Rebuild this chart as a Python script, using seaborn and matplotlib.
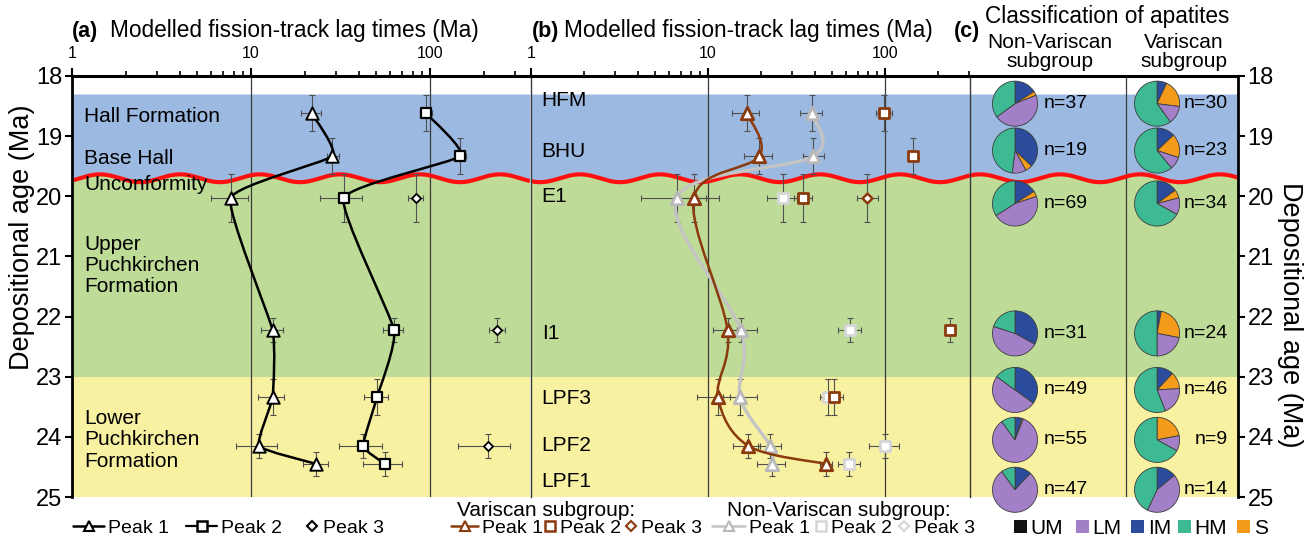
import numpy as np
import pandas as pd
import seaborn as sns
import matplotlib
matplotlib.use("Agg")
import matplotlib.pyplot as plt
from matplotlib.path import Path
from matplotlib.patches import PathPatch, Patch
from matplotlib.lines import Line2D
from matplotlib.ticker import FixedLocator, LogLocator, NullFormatter

# ---- data ----
samples = ["HFM", "BHU", "E1", "I1", "LPF3", "LPF2", "LPF1"]
dep_age = [18.62, 19.33, 20.03, 22.23, 23.34, 24.15, 24.45]
dep_age_err = [0.3, 0.3, 0.4, 0.2, 0.3, 0.2, 0.2]

# (a) all apatites
a_peak1 = [21.8, 28.5, 7.7, 13.2, 13.2, 11.1, 23.2]
a_peak1_lo = [19.0, 26.5, 6.0, 11.4, 11.0, 8.2, 19.4]
a_peak1_hi = [24.6, 31.1, 9.6, 15.0, 15.3, 14.0, 27.0]
a_peak2 = [95, 148, 33, 63, 50.6, 42.4, 56]
a_peak2_lo = [88, 138, 24.2, 54.8, 42.8, 31.1, 42.4]
a_peak2_hi = [102, 158, 41.5, 71.0, 58.5, 54.2, 69.5]
a_peak3_samples = ["E1", "I1", "LPF2"]
a_peak3 = [83, 237, 212]
a_peak3_lo = [75.7, 214, 144]
a_peak3_hi = [91, 262, 280]

# (b) Variscan / Non-Variscan subgroups
v_peak1 = [16.6, 19.5, 8.3, 12.9, 11.4, 16.9, 46.4]
v_peak1_lo = [13.7, 15.9, 6.65, 10.7, 8.7, 13.9, 42.9]
v_peak1_hi = [19.5, 23.1, 11.5, 14.5, 13.3, 19.7, 50.0]
nv_peak1 = [38.5, 39.4, 6.65, 15.3, 15.2, 22.4, 22.9]
nv_peak1_lo = [33.1, 34.3, 4.17, 12.5, 12.2, 19.2, 18.8]
nv_peak1_hi = [43.9, 45.2, 9.75, 18.8, 19.0, 25.7, 27.2]
v_peak2_samples = ["HFM", "BHU", "E1", "I1", "LPF3"]
v_peak2 = [99, 143, 34.4, 233, 51.7]
v_peak2_lo = [89, 135, 30.6, 218, 47.9]
v_peak2_hi = [109, 152, 38.5, 248, 58.1]
nv_peak2_samples = ["E1", "I1", "LPF3", "LPF2", "LPF1"]
nv_peak2 = [26.4, 63.4, 47.9, 100, 62.9]
nv_peak2_lo = [21.5, 54.5, 42.9, 81.5, 54.5]
nv_peak2_hi = [31.7, 72.9, 51.0, 120, 72.2]
v_peak3_samples = ["E1"]
v_peak3 = [79]
v_peak3_lo = [69.2]
v_peak3_hi = [91.6]

# (c) apatite classes (fractions), clockwise from 12 o'clock: IM, S, LM, HM
classes = ["UM", "LM", "IM", "HM", "S"]
class_colors = {"UM": "#111111", "LM": "#a37fc8", "IM": "#2b4c9c", "HM": "#3dba94", "S": "#f49b1c"}
nv_n = [37, 19, 69, 31, 49, 55, 47]
nv_IM = [0.16, 0.37, 0.16, 0.33, 0.35, 0.05, 0.12]
nv_S = [0.03, 0.05, 0.04, 0.0, 0.0, 0.01, 0.0]
nv_LM = [0.46, 0.10, 0.46, 0.47, 0.50, 0.84, 0.78]
nv_HM = [0.35, 0.48, 0.34, 0.20, 0.15, 0.10, 0.10]
v_n = [30, 23, 34, 24, 46, 9, 14]
v_IM = [0.07, 0.13, 0.15, 0.03, 0.12, 0.0, 0.14]
v_S = [0.20, 0.17, 0.06, 0.25, 0.12, 0.22, 0.0]
v_LM = [0.13, 0.09, 0.12, 0.22, 0.20, 0.11, 0.43]
v_HM = [0.60, 0.61, 0.67, 0.50, 0.56, 0.67, 0.43]
pie_row_age = [18.46, 19.24, 20.12, 22.28, 23.22, 24.05, 24.88]

formations = [("Hall Formation", 18.67), ("Base Hall", 19.37), ("Unconformity", 19.81),
              ("Upper\nPuchkirchen\nFormation", 21.15), ("Lower\nPuchkirchen\nFormation", 24.05)]
sample_label_age = [18.4, 19.26, 20.0, 22.28, 23.37, 24.14, 24.75]

# ---- style ----
sns.set_theme(style="white")
plt.rcParams["font.family"] = ["Liberation Sans", "DejaVu Sans"]
plt.rcParams["text.color"] = "black"
plt.rcParams["xtick.color"] = "black"
plt.rcParams["ytick.color"] = "black"

BLUE, GREEN, YELLOW = "#9cb9e1", "#bedc98", "#f8f1a2"
BROWN, GREY, LGREY = "#8b3a0e", "#b8b8b8", "#d6d6d6"
ECOL = "#505050"

W, H = 1306, 541
fig = plt.figure(figsize=(W / 100, H / 100), dpi=100)
fig.patch.set_facecolor("white")


def px_axes(l, t, r, b):
    return fig.add_axes([l / W, 1 - b / H, (r - l) / W, (b - t) / H])


ax_a = px_axes(72, 76, 530, 497)
ax_b = px_axes(531, 76, 970, 497)
ax_c = px_axes(970, 76, 1238, 497)
ax_bounds = {ax_a: (72, 530), ax_b: (531, 970), ax_c: (970, 1238)}

for ax, xmax in [(ax_a, 362), (ax_b, 302)]:
    ax.set_xscale("log")
    ax.set_xlim(1, xmax)
ax_c.set_xlim(0, 1)
for ax in (ax_a, ax_b, ax_c):
    ax.set_ylim(25, 18)
    ax.set_facecolor("white")


def frac_to_x(ax, f):
    lo, hi = ax.get_xlim()
    if ax.get_xscale() == "log":
        return 10 ** (np.log10(lo) + f * (np.log10(hi) - np.log10(lo)))
    return lo + f * (hi - lo)


# background units and the unconformity
for ax, (l, r) in ax_bounds.items():
    px = np.linspace(l, r, 500)
    f = (px - l) / (r - l)
    xs = frac_to_x(ax, f)
    wave = 19.7 + 0.065 * np.sin(2 * np.pi * (px - 40) / 80)
    ax.fill_between(xs, 18.3, wave, color=BLUE, lw=0, zorder=0)
    ax.fill_between(xs, wave, 23, color=GREEN, lw=0, zorder=0)
    ax.fill_between(xs, 23, 25, color=YELLOW, lw=0, zorder=0)
    ax.plot(xs, wave, color="#ff1010", lw=3, zorder=2, solid_capstyle="butt")

for ax in (ax_a, ax_b):
    for v in (10, 100):
        ax.axvline(v, color="#3a3a3a", lw=0.9, zorder=1)
ax_c.axvline((1126 - 970) / 268, color="#3a3a3a", lw=0.9, zorder=1)


def smooth_line(ax, x, y, tension=1.0, **kw):
    P = np.column_stack([np.log10(x), y])
    n = len(P)
    verts, codes = [P[0]], [Path.MOVETO]
    for i in range(n - 1):
        p0, p1, p2, p3 = P[max(i - 1, 0)], P[i], P[i + 1], P[min(i + 2, n - 1)]
        c1 = p1 + tension * (p2 - p0) / 6
        c2 = p2 - tension * (p3 - p1) / 6
        verts += [c1, c2, p2]
        codes += [Path.CURVE4] * 3
    V = np.array(verts)
    V[:, 0] = 10 ** V[:, 0]
    ax.add_patch(PathPatch(Path(V, codes), fill=False, **kw))


def draw_series(ax, names, lag, lo, hi, marker, size, face, edge, mlw,
                line=None, line_lw=1.6, tension=1.0, z=5):
    idx = [samples.index(s) for s in names]
    age = np.array(dep_age)[idx]
    aerr = np.array(dep_age_err)[idx]
    lag, lo, hi = np.array(lag, float), np.array(lo, float), np.array(hi, float)
    ax.errorbar(lag, age, xerr=[lag - lo, hi - lag], yerr=aerr, fmt="none",
                ecolor=ECOL, elinewidth=0.8, capsize=2.5, capthick=0.8, zorder=3)
    if line is not None:
        smooth_line(ax, lag, age, tension=tension, edgecolor=line, lw=line_lw,
                    zorder=z - 1, capstyle="round", joinstyle="round")
    df = pd.DataFrame({"lag": lag, "age": age})
    sns.scatterplot(data=df, x="lag", y="age", ax=ax, marker=marker, s=size,
                    color=face, edgecolor=edge, linewidth=mlw, zorder=z, legend=False)


# panel (a)
draw_series(ax_a, samples, a_peak1, a_peak1_lo, a_peak1_hi, "^", 80, "white", "black", 1.4,
            line="black", line_lw=1.8, tension=0.45)
draw_series(ax_a, samples, a_peak2, a_peak2_lo, a_peak2_hi, "s", 55, "white", "black", 1.6,
            line="black", line_lw=1.8, tension=0.45)
draw_series(ax_a, a_peak3_samples, a_peak3, a_peak3_lo, a_peak3_hi, "D", 22, "white", "black", 1.3)

# panel (b)
draw_series(ax_b, samples, nv_peak1, nv_peak1_lo, nv_peak1_hi, "^", 80, "white", GREY, 2.0,
            line="#c4c4c4", line_lw=2.4, z=5)
draw_series(ax_b, samples, v_peak1, v_peak1_lo, v_peak1_hi, "^", 80, "white", BROWN, 2.0,
            line=BROWN, line_lw=1.8, z=7)
draw_series(ax_b, nv_peak2_samples, nv_peak2, nv_peak2_lo, nv_peak2_hi, "s", 45, "white", LGREY, 2.0)
draw_series(ax_b, v_peak2_samples, v_peak2, v_peak2_lo, v_peak2_hi, "s", 45, "white", BROWN, 2.0)
draw_series(ax_b, v_peak3_samples, v_peak3, v_peak3_lo, v_peak3_hi, "D", 25, "white", BROWN, 1.8)

# text labels
for txt, y in formations:
    ax_a.text(1.17, y, txt, fontsize=15, va="center", ha="left", zorder=6, linespacing=1.15)
for s, y in zip(samples, sample_label_age):
    ax_b.text(1.15, y, s, fontsize=15, va="center", ha="left", zorder=6)

# axes styling
for ax in (ax_a, ax_b, ax_c):
    for sp in ax.spines.values():
        sp.set_visible(False)
    ax.spines["top"].set_visible(True)
    ax.spines["top"].set_linewidth(2.2)
    ax.spines["top"].set_color("black")
    ax.set_xlabel("")
    ax.set_ylabel("")
    ax.grid(False)

for ax in (ax_a, ax_b):
    ax.xaxis.set_major_locator(FixedLocator([1, 10, 100]))
    ax.set_xticklabels(["1", "10", "100"])
    ax.xaxis.set_minor_locator(LogLocator(base=10, subs=np.arange(2, 10)))
    ax.xaxis.set_minor_formatter(NullFormatter())
    ax.tick_params(axis="x", which="both", top=True, bottom=False, labeltop=True,
                   labelbottom=False, direction="out", color="black")
    ax.tick_params(axis="x", which="major", length=6, width=1.5, labelsize=11.5, pad=5)
    ax.tick_params(axis="x", which="minor", length=3.5, width=1.2)

ax_a.spines["left"].set_visible(True)
ax_a.spines["left"].set_linewidth(2.0)
ax_a.spines["left"].set_color("black")
ax_a.set_yticks(range(18, 26))
ax_a.tick_params(axis="y", left=True, right=False, labelleft=True, direction="out",
                 length=5, width=1.5, labelsize=17, pad=2, color="black")

ax_b.spines["left"].set_visible(True)
ax_b.spines["left"].set_linewidth(1.0)
ax_b.spines["left"].set_color("#3a3a3a")
ax_b.tick_params(axis="y", left=False, labelleft=False)

ax_c.spines["left"].set_visible(True)
ax_c.spines["left"].set_linewidth(1.0)
ax_c.spines["left"].set_color("#3a3a3a")
ax_c.spines["right"].set_visible(True)
ax_c.spines["right"].set_linewidth(2.0)
ax_c.spines["right"].set_color("black")
ax_c.set_xticks([])
ax_c.yaxis.tick_right()
ax_c.set_yticks(range(18, 26))
ax_c.tick_params(axis="y", right=True, left=False, labelright=True, labelleft=False,
                 direction="out", length=5, width=1.5, labelsize=17, pad=2, color="black")

# pies in panel (c)
R = 23
for col_x, lab_x, ha, n_list, fr in [
        (0.168, 0.276, "left", nv_n, (nv_IM, nv_S, nv_LM, nv_HM)),
        (0.698, 0.963, "right", v_n, (v_IM, v_S, v_LM, v_HM))]:
    for i, age in enumerate(pie_row_age):
        cx, cy = ax_c.transData.transform((col_x, age))
        pax = fig.add_axes([(cx - R) / W, (cy - R) / H, 2 * R / W, 2 * R / H])
        vals = [fr[0][i], fr[1][i], fr[2][i], fr[3][i]]
        cols = [class_colors["IM"], class_colors["S"], class_colors["LM"], class_colors["HM"]]
        keep = [k for k, v in enumerate(vals) if v > 0]
        pax.pie([vals[k] for k in keep], colors=[cols[k] for k in keep], startangle=90,
                counterclock=False, radius=1.0,
                wedgeprops=dict(edgecolor="#3c3c3c", linewidth=0.6))
        pax.set_xlim(-1.02, 1.02)
        pax.set_ylim(-1.02, 1.02)
        pax.set_aspect("equal")
        pax.axis("off")
        ax_c.text(lab_x, age, f"n={n_list[i]}", fontsize=14, va="center", ha=ha, zorder=6)

# titles
fig.text(72 / W, 1 - 31 / H, "(a)", fontsize=15.5, fontweight="bold", va="center", ha="left")
fig.text(110 / W, 1 - 31 / H, "Modelled fission-track lag times (Ma)", fontsize=16.3, va="center", ha="left")
fig.text(532 / W, 1 - 31 / H, "(b)", fontsize=15.5, fontweight="bold", va="center", ha="left")
fig.text(564 / W, 1 - 31 / H, "Modelled fission-track lag times (Ma)", fontsize=16.3, va="center", ha="left")
fig.text(954 / W, 1 - 32 / H, "(c)", fontsize=15.5, fontweight="bold", va="center", ha="left")
fig.text(985 / W, 1 - 17 / H, "Classification of apatites", fontsize=16.3, va="center", ha="left")
fig.text(1050 / W, 1 - 52 / H, "Non-Variscan\nsubgroup", fontsize=15, va="center", ha="center",
         linespacing=0.95)
fig.text(1184 / W, 1 - 52 / H, "Variscan\nsubgroup", fontsize=15, va="center", ha="center",
         linespacing=0.95)
fig.text(22 / W, 1 - 237 / H, "Depositional age (Ma)", fontsize=19.5, rotation=90, va="center", ha="center")
fig.text(1290 / W, 1 - 315 / H, "Depositional age (Ma)", fontsize=19.5, rotation=270, va="center", ha="center")

# legend entries, each placed at its own spot along the bottom strip
LEG_Y = 1 - 528 / H
LEG_FS = 14


def tri(c, lc):
    return Line2D([], [], color=lc, lw=1.8, marker="^", ms=7, mfc="white", mec=c, mew=1.5)


def sq(c, line=False):
    return Line2D([], [], color=c, lw=1.6 if line else 0, marker="s", ms=6.5,
                  mfc="white", mec=c, mew=1.8)


def dia(c):
    return Line2D([], [], ls="none", marker="D", ms=5, mfc="white", mec=c, mew=1.5)


legend_entries = [
    (tri("black", "black"), "Peak 1", 73, 1.6),
    (sq("black", True), "Peak 2", 186, 1.6),
    (dia("black"), "Peak 3", 304, 0.8),
    (tri(BROWN, BROWN), "Peak 1", 451, 1.4),
    (sq(BROWN), "Peak 2", 544, 0.6),
    (dia(BROWN), "Peak 3", 625, 0.6),
    (tri(GREY, "#c4c4c4"), "Peak 1", 712, 1.7),
    (sq(LGREY), "Peak 2", 815, 0.6),
    (dia(LGREY), "Peak 3", 898, 0.6),
]
for h, lab, x, hl in legend_entries:
    fig.legend([h], [lab], loc="center left", bbox_to_anchor=(x / W, LEG_Y), frameon=False,
               fontsize=LEG_FS, borderaxespad=0, borderpad=0, handlelength=hl, handletextpad=0.2)
class_x = [1014, 1076, 1131, 1178, 1237]
for c, x in zip(classes, class_x):
    fig.legend([Patch(facecolor=class_colors[c], edgecolor="none")], [c], loc="center left",
               bbox_to_anchor=(x / W, LEG_Y), frameon=False, fontsize=LEG_FS + 1, borderaxespad=0,
               borderpad=0, handlelength=0.6, handleheight=0.6, handletextpad=0.2)
fig.text(457 / W, 1 - 510 / H, "Variscan subgroup:", fontsize=15, va="center", ha="left")
fig.text(727 / W, 1 - 510 / H, "Non-Variscan subgroup:", fontsize=15, va="center", ha="left")

fig.savefig("out.png", dpi=100, facecolor="white")
